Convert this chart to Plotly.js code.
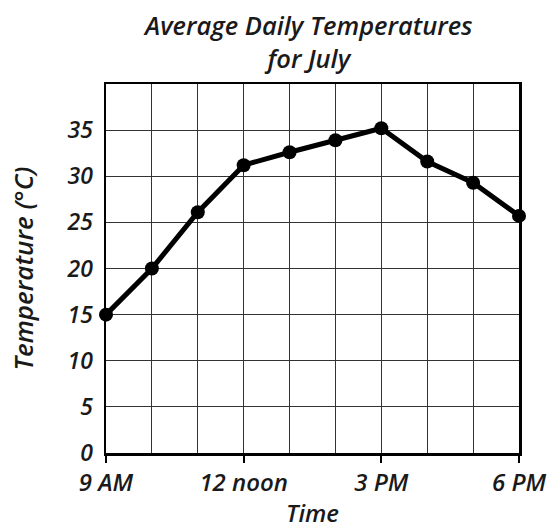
<!DOCTYPE html>
<html>
<head>
<meta charset="utf-8">
<script src="https://cdn.plot.ly/plotly-3.0.1.min.js"></script>
<style>html,body{margin:0;padding:0;background:#fff;}</style>
</head>
<body>
<div id="chart" style="width:554px;height:529px;"></div>
<script>
// Hours of day (24h clock)
const hours = [9, 10, 11, 12, 13, 14, 15, 16, 17, 18];
// Average temperature (°C)
const temps = [15, 20, 26.1, 31.2, 32.6, 33.9, 35.2, 31.6, 29.3, 25.7];
// Labelled x ticks
const xTickVals = [9, 12, 15, 18];
const xTickText = ['9 AM', '12 noon', '3 PM', '6 PM'];
const yTickVals = [0, 5, 10, 15, 20, 25, 30, 35];
const chartTitle = 'Average Daily Temperatures<br>for July';

const FONT = {family: '"Open Sans", sans-serif', size: 23, color: '#1a1a1a', style: 'italic', weight: 600};

const trace = {
  x: hours, y: temps, type: 'scatter', mode: 'lines+markers',
  line: {color: '#000', width: 5},
  marker: {color: '#000', size: 14},
  cliponaxis: false, hoverinfo: 'skip'
};

const layout = {
  width: 554, height: 529,
  margin: {l: 106, r: 35, t: 84, b: 76},
  paper_bgcolor: '#fff', plot_bgcolor: '#fff',
  showlegend: false,
  annotations: [{
    text: chartTitle, showarrow: false,
    xref: 'paper', yref: 'paper', x: 0.49, y: 1, xanchor: 'center', yanchor: 'bottom',
    yshift: 7, align: 'center',
    font: Object.assign({}, FONT, {size: 25.5})
  }],
  xaxis: {
    range: [9, 18], tickmode: 'array', tickvals: xTickVals, ticktext: xTickText,
    ticks: 'outside', ticklen: 7, tickwidth: 2, tickcolor: '#000',
    showgrid: true, gridcolor: '#333', gridwidth: 1.2,
    minor: {dtick: 1, showgrid: true, gridcolor: '#333', gridwidth: 1.2},
    showline: true, linecolor: '#000', linewidth: 2.5, mirror: true,
    zeroline: false, tickfont: Object.assign({}, FONT, {size: 24}),
    title: {text: 'Time', font: Object.assign({}, FONT, {size: 24}), standoff: 16}
  },
  yaxis: {
    range: [0, 40], tickmode: 'array', tickvals: yTickVals,
    ticks: '', showgrid: true, gridcolor: '#333', gridwidth: 1.2,
    showline: true, linecolor: '#000', linewidth: 2.5, mirror: true,
    zeroline: false, tickfont: FONT, ticklabelstandoff: 6,
    title: {text: 'Temperature (°C)', font: Object.assign({}, FONT, {size: 26}), standoff: 26}
  }
};

Plotly.newPlot('chart', [trace], layout, {displayModeBar: false, staticPlot: true});
</script>
</body>
</html>
